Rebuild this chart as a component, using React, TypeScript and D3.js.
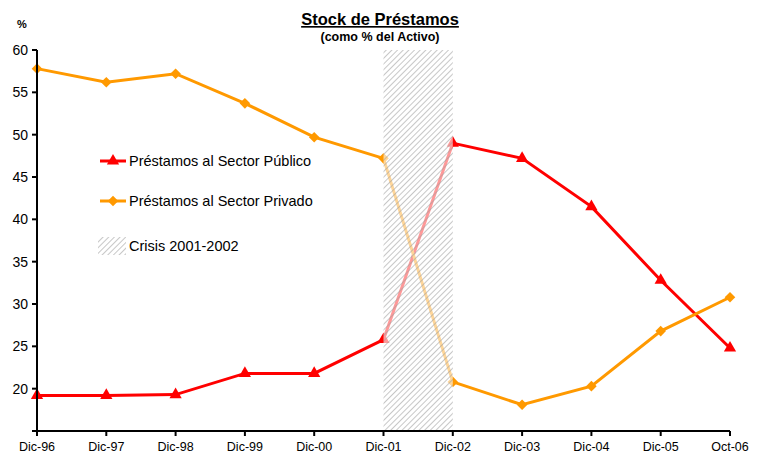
import * as d3 from 'd3'

const categories = ['Dic-96', 'Dic-97', 'Dic-98', 'Dic-99', 'Dic-00', 'Dic-01', 'Dic-02', 'Dic-03', 'Dic-04', 'Dic-05', 'Oct-06']
const publico = [19.2, 19.2, 19.3, 21.8, 21.8, 25.8, 49.0, 47.2, 41.5, 32.8, 24.8]
const privado = [57.8, 56.2, 57.2, 53.7, 49.7, 47.2, 20.8, 18.1, 20.3, 26.8, 30.8]
const yTicks = [15, 20, 25, 30, 35, 40, 45, 50, 55, 60]
const crisis = ['Dic-01', 'Dic-02']

const W = 763
const H = 455
const font = '"Liberation Sans", Arial, sans-serif'
const RED = '#ff0000'
const ORANGE = '#ff9900'

export default function App() {
  const x = d3.scalePoint<string>().domain(categories).range([37, 730])
  const y = d3.scaleLinear().domain([15, 60]).range([431, 50])

  const line = d3.line<number>()
    .x((_, i) => x(categories[i])!)
    .y(d => y(d))

  const tri = d3.symbol().type(d3.symbolTriangle).size(65)()!
  // square turned 45deg -> excel style diamond
  const dia = d3.symbol().type(d3.symbolSquare).size(56)()!

  const cx0 = x(crisis[0])!
  const cx1 = x(crisis[1])!

  return (
    <svg width={W} height={H} style={{ position: 'absolute', left: 0, top: 0, fontFamily: font }}>
      <defs>
        <pattern id="hatch" width="4" height="4" patternUnits="userSpaceOnUse" patternTransform="rotate(45)">
          <rect width="4" height="4" fill="#ffffff" fillOpacity="0.6" />
          <line x1="0" y1="0" x2="0" y2="4" stroke="#a0a0a0" strokeWidth="1.2" />
        </pattern>
      </defs>
      <rect width={W} height={H} fill="#fff" />

      {/* title */}
      <text x={380} y={25} textAnchor="middle" fontSize={16.5} fontWeight="bold" textDecoration="underline">Stock de Préstamos</text>
      <text x={380} y={41} textAnchor="middle" fontSize={12.5} fontWeight="bold">(como % del Activo)</text>
      <text x={22} y={28} textAnchor="middle" fontSize={11} fontWeight="bold">%</text>

      {/* series */}
      <path d={line(publico)!} fill="none" stroke={RED} strokeWidth={3} />
      {publico.map((v, i) => (
        <path key={'p' + i} d={tri} transform={`translate(${x(categories[i])},${y(v)})`} fill={RED} />
      ))}
      <path d={line(privado)!} fill="none" stroke={ORANGE} strokeWidth={3} />
      {privado.map((v, i) => (
        <path key={'o' + i} d={dia} transform={`translate(${x(categories[i])},${y(v)}) rotate(45)`} fill={ORANGE} />
      ))}

      {/* crisis shading over the lines */}
      <rect x={cx0} y={y(60)} width={cx1 - cx0} height={y(15) - y(60)} fill="url(#hatch)" />

      {/* y axis */}
      <line x1={37} x2={37} y1={y(60)} y2={y(15)} stroke="#000" strokeWidth={2} />
      {yTicks.map(t => (
        <g key={t}>
          <line x1={32} x2={37} y1={y(t)} y2={y(t)} stroke="#000" strokeWidth={2} />
          {t > 15 && (
            <text x={28} y={y(t)} dy="0.35em" textAnchor="end" fontSize={14}>{t}</text>
          )}
        </g>
      ))}

      {/* x axis */}
      <line x1={37} x2={730} y1={y(15)} y2={y(15)} stroke="#000" strokeWidth={2} />
      {categories.map(c => (
        <g key={c}>
          <line x1={x(c)} x2={x(c)} y1={y(15)} y2={y(15) + 5} stroke="#000" strokeWidth={2} />
          <text x={x(c)} y={y(15) + 20} textAnchor="middle" fontSize={12.5}>{c}</text>
        </g>
      ))}

      {/* legend */}
      <g fontSize={14.5}>
        <line x1={100} x2={126} y1={161} y2={161} stroke={RED} strokeWidth={3} />
        <path d={tri} transform="translate(113,161)" fill={RED} />
        <text x={129} y={161} dy="0.35em">Préstamos al Sector Público</text>

        <line x1={100} x2={126} y1={201} y2={201} stroke={ORANGE} strokeWidth={3} />
        <path d={dia} transform="translate(113,201) rotate(45)" fill={ORANGE} />
        <text x={129} y={201} dy="0.35em">Préstamos al Sector Privado</text>

        <rect x={98} y={237} width={28} height={18} fill="url(#hatch)" />
        <text x={129} y={246} dy="0.35em">Crisis 2001-2002</text>
      </g>
    </svg>
  )
}
